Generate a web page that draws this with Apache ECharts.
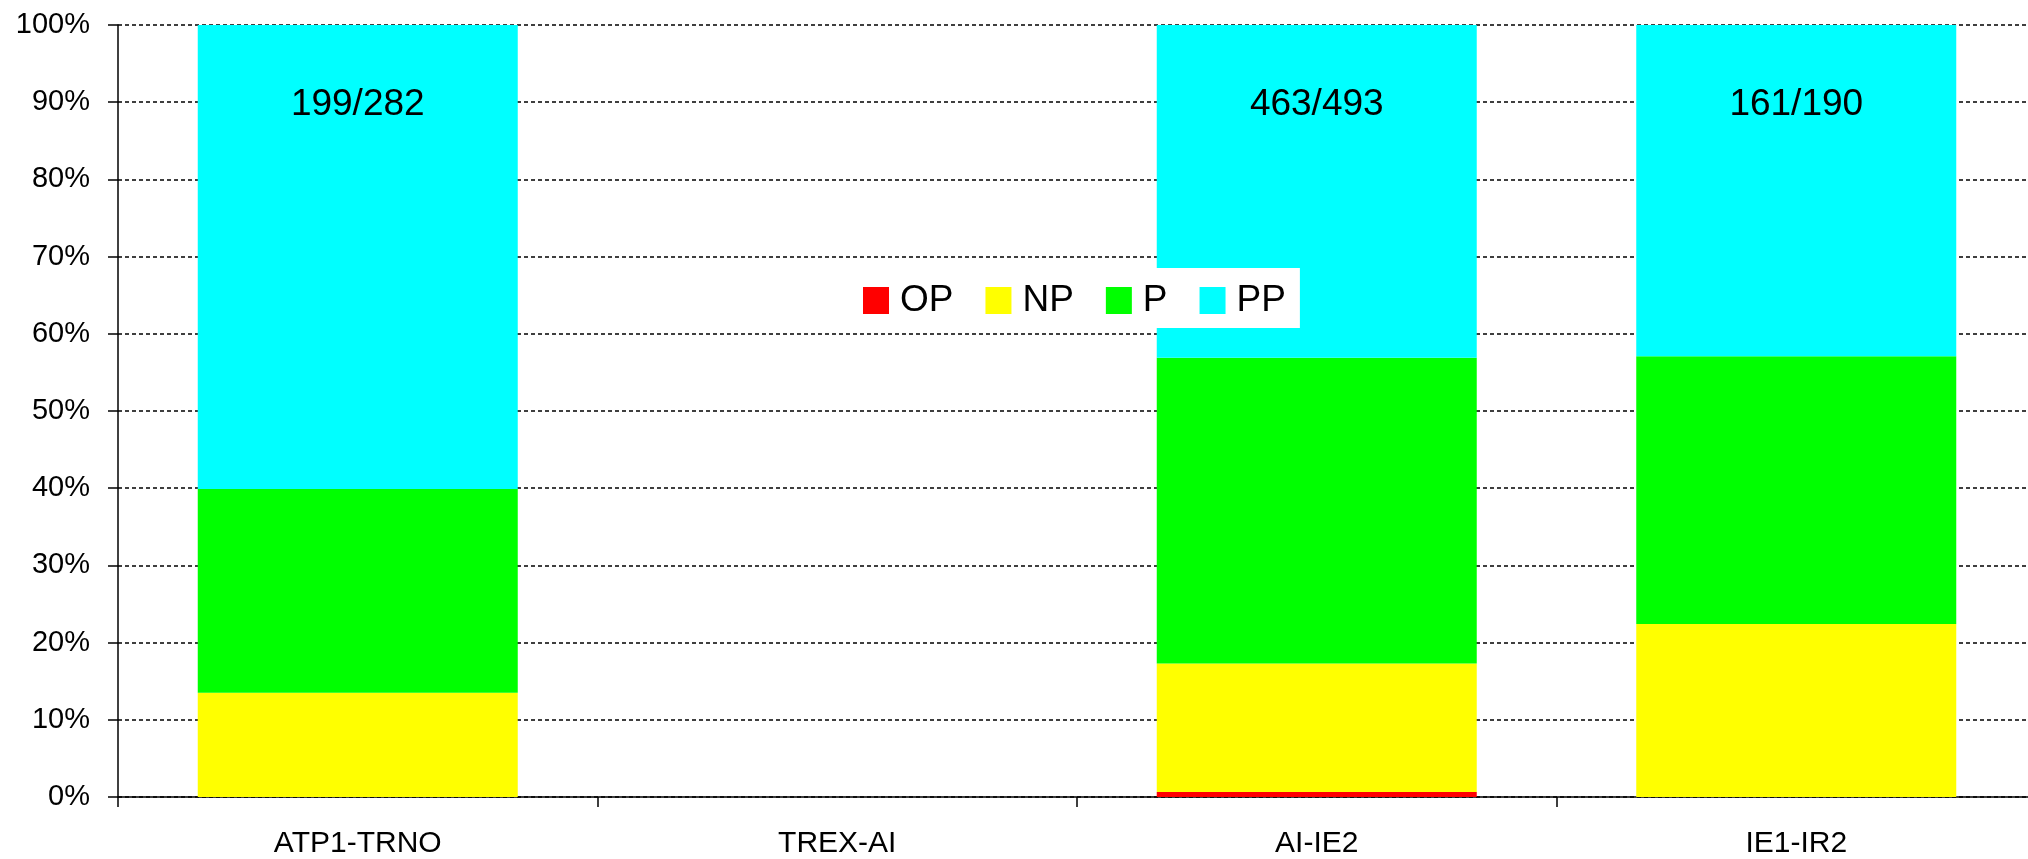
<!DOCTYPE html>
<html>
<head>
<meta charset="utf-8">
<script src="https://cdn.jsdelivr.net/npm/echarts@6/dist/echarts.min.js"></script>
<style>
  html, body { margin: 0; padding: 0; background: #fff; overflow: hidden; }
  #chart { width: 2040px; height: 859px; }
</style>
</head>
<body>
<div id="chart"></div>
<script>
// categories and stacked percentages (per bar, bottom to top)
const categories = ["ATP1-TRNO", "TREX-AI", "AI-IE2", "IE1-IR2"];
const opValues = [0, null, 0.65, 0];
const npValues = [13.5, null, 16.65, 22.4];
const pValues = [26.4, null, 39.6, 34.7];
const ppValues = [60.1, null, 43.1, 42.9];
const barLabels = ["199/282", "", "463/493", "161/190"];
const yTicks = [0, 10, 20, 30, 40, 50, 60, 70, 80, 90, 100];

const chart = echarts.init(document.getElementById("chart"));

const font = "Liberation Sans, Arial, sans-serif";

function barSeries(name, color, data, extra) {
  return Object.assign({
    name: name,
    type: "bar",
    stack: "total",
    barWidth: 320,
    itemStyle: { color: color },
    data: data
  }, extra || {});
}

chart.setOption({
  animation: false,
  backgroundColor: "#fff",
  legend: {
    left: 850,
    top: 268,
    backgroundColor: "#fff",
    padding: [14, 14, 9, 13],
    itemGap: 32,
    itemWidth: 26,
    itemHeight: 27,
    icon: "rect",
    data: ["OP", "NP", "P", "PP"],
    textStyle: {
      fontFamily: font,
      fontSize: 37,
      color: "#000",
      padding: [0, 0, 0, 6]
    }
  },
  grid: {
    left: 118,
    right: 4,
    top: 25,
    bottom: 59,
    containLabel: false
  },
  xAxis: {
    type: "category",
    data: categories,
    axisLine: { lineStyle: { color: "#000", width: 1.5 } },
    axisTick: { show: true, length: 10, lineStyle: { color: "#000", width: 1.5 } },
    axisLabel: {
      margin: 32,
      fontFamily: font,
      fontSize: 30,
      color: "#000"
    }
  },
  yAxis: {
    type: "value",
    min: 0,
    max: 100,
    interval: 10,
    axisLine: { show: true, lineStyle: { color: "#000", width: 1.5 } },
    axisTick: { show: true, length: 10, lineStyle: { color: "#000", width: 1.5 } },
    axisLabel: {
      margin: 28,
      fontFamily: font,
      fontSize: 29,
      color: "#000",
      formatter: v => (yTicks.includes(v) ? v + "%" : "")
    },
    splitLine: {
      show: true,
      lineStyle: { color: "#000", width: 1.5, type: [4, 3] }
    }
  },
  series: [
    barSeries("OP", "#ff0000", opValues),
    barSeries("NP", "#ffff00", npValues),
    barSeries("P", "#00ff00", pValues),
    barSeries("PP", "#00ffff", ppValues, {
      label: {
        show: true,
        position: ["50%", 80],
        align: "center",
        verticalAlign: "middle",
        fontFamily: font,
        fontSize: 37,
        color: "#000",
        formatter: p => barLabels[p.dataIndex]
      }
    })
  ]
});
</script>
</body>
</html>
